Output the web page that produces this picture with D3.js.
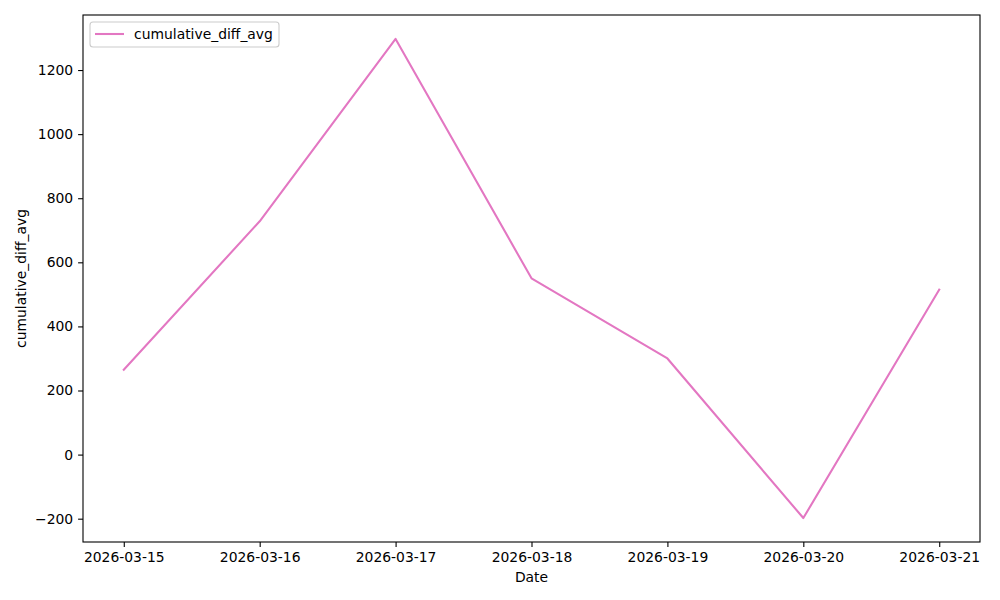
<!DOCTYPE html>
<html><head><meta charset="utf-8">
<script src="https://cdn.jsdelivr.net/npm/d3@7"></script>
<style>body{margin:0;background:#fff}svg{display:block}text{font-family:"DejaVu Sans",sans-serif}</style>
</head><body>
<svg id="c" width="1000" height="600"></svg>
<script>
const dates = ["2026-03-15","2026-03-16","2026-03-17","2026-03-18","2026-03-19","2026-03-20","2026-03-21"];
const values = [265, 728, 1297, 550, 300, -198, 515];
const yTicks = [-200, 0, 200, 400, 600, 800, 1000, 1200];
const seriesName = "cumulative_diff_avg";

const svg = d3.select("#c");
const L = 83, R = 980, T = 15, B = 542;
const parse = d3.utcParse("%Y-%m-%d");
const fmt = d3.utcFormat("%Y-%m-%d");
const xd = dates.map(parse);
const x0 = xd[0], x1 = xd[xd.length-1];
const span = x1 - x0;
const x = d3.scaleUtc().domain([new Date(+x0 - span*0.05), new Date(+x1 + span*0.05)]).range([L, R]);
const ymin = d3.min(values), ymax = d3.max(values), yr = ymax - ymin;
const y = d3.scaleLinear().domain([ymin - yr*0.05, ymax + yr*0.05]).range([B, T]);

const fs = "13.9px";
const xAxis = svg.append("g").attr("transform", `translate(0,${B})`)
  .call(d3.axisBottom(x).tickValues(xd).tickFormat(fmt).tickSizeOuter(0).tickSize(4.9).tickPadding(4.9));
const yAxis = svg.append("g").attr("transform", `translate(${L},0)`)
  .call(d3.axisLeft(y).tickValues(yTicks).tickFormat(d => d < 0 ? "\u2212" + Math.abs(d) : d).tickSizeOuter(0).tickSize(4.9).tickPadding(4.9));
[xAxis, yAxis].forEach(a => {
  a.select(".domain").remove();
  a.selectAll("text").attr("font-size", fs).attr("fill", "#000").style("font-family", '"DejaVu Sans",sans-serif');
  a.selectAll("line").attr("stroke", "#000").attr("stroke-width", 1.1);
});

const line = d3.line().x((d,i) => x(xd[i])).y(d => y(d));
svg.append("path").datum(values).attr("d", line).attr("fill", "none")
  .attr("stroke", "#e377c2").attr("stroke-width", 2.08).attr("stroke-linejoin", "round").attr("stroke-linecap", "square");

svg.append("rect").attr("x", L).attr("y", T).attr("width", R-L).attr("height", B-T)
  .attr("fill", "none").attr("stroke", "#000").attr("stroke-width", 1.1);

svg.append("text").attr("x", (L+R)/2).attr("y", 582).attr("text-anchor", "middle").attr("font-size", fs).text("Date");
svg.append("text").attr("transform", `translate(26,${(T+B)/2}) rotate(-90)`).attr("text-anchor", "middle").attr("font-size", fs).text(seriesName);

const lg = svg.append("g");
lg.append("rect").attr("x", 90).attr("y", 22).attr("width", 189).attr("height", 25).attr("rx", 3)
  .attr("fill", "#fff").attr("fill-opacity", 0.8).attr("stroke", "#ccc").attr("stroke-width", 1.1);
lg.append("line").attr("x1", 95).attr("x2", 124).attr("y1", 34).attr("y2", 34).attr("stroke", "#e377c2").attr("stroke-width", 2.08);
lg.append("text").attr("x", 134).attr("y", 39).attr("font-size", fs).text(seriesName);
</script>
</body></html>
